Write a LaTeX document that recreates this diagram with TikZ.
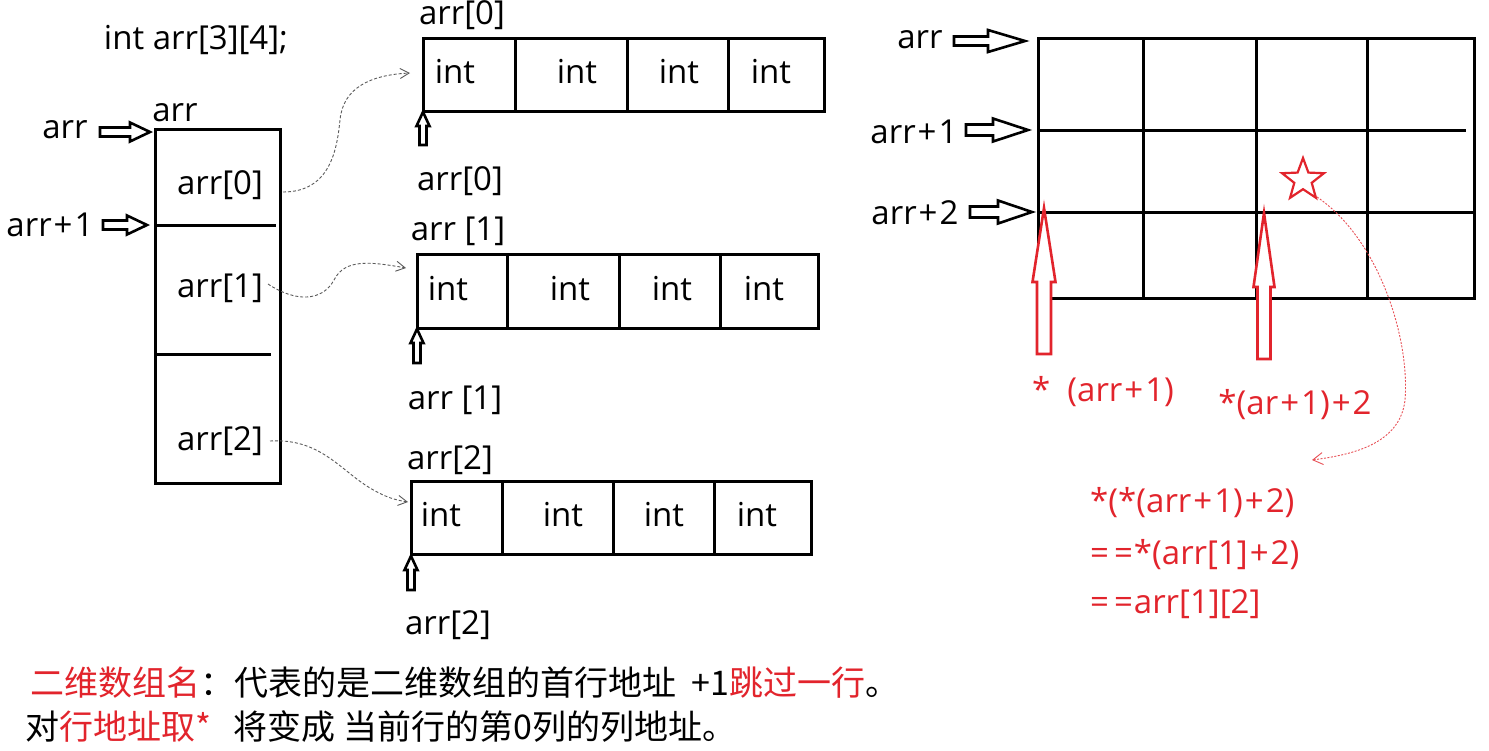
\documentclass[tikz,border=0pt]{standalone}
\usepackage{fontspec}
\setmainfont{Open Sans}
\newfontfamily\cjk{Noto Sans CJK SC}
\usetikzlibrary{arrows.meta,shapes.geometric}
\definecolor{myred}{RGB}{226,36,44}
\definecolor{curvegray}{RGB}{90,90,90}
\newcommand{\pl}{\kern2pt+\kern2pt}
\newcommand{\eqeq}{=\kern5pt=\kern1pt}
% right-pointing hollow block arrow: style, x start, y, x tip, shaft half, head half, head length
\newcommand{\blockR}[7]{\draw[#1] (#2,#3-#5) -- (#4-#7,#3-#5) -- (#4-#7,#3-#6) -- (#4,#3) -- (#4-#7,#3+#6) -- (#4-#7,#3+#5) -- (#2,#3+#5) -- cycle;}
% upward hollow block arrow: style, x, y bottom, y tip, shaft half, head half, head length
\newcommand{\blockU}[7]{\draw[#1] (#2-#5,#3) -- (#2-#5,#4+#7) -- (#2-#6,#4+#7) -- (#2,#4) -- (#2+#6,#4+#7) -- (#2+#5,#4+#7) -- (#2+#5,#3) -- cycle;}
\begin{document}
\begin{tikzpicture}[x=1pt,y=-1pt,
  font=\fontsize{33}{36}\selectfont,
  lbl/.style={inner sep=0pt},
  box/.style={draw, line width=3pt, inner sep=0pt},
  sep/.style={line width=3pt},
  blk/.style={line width=2.6pt, fill=white, line join=miter},
  redblk/.style={line width=2.6pt, draw=myred, fill=white, line join=miter},
  dcurve/.style={draw=curvegray, line width=0.9pt, dash pattern=on 3pt off 2pt, -{Straight Barb[length=9pt,width=10pt]}},
  rcurve/.style={draw=myred!80, line width=0.9pt, dash pattern=on 2pt off 1.5pt, -{Straight Barb[length=10pt,width=12pt]}},
  redtxt/.style={inner sep=0pt, text=myred},
  cjktxt/.style={inner sep=0pt, font=\cjk\fontsize{34}{36}\selectfont}]
\useasboundingbox[fill=white] (0,0) rectangle (1489,750);

% ---------- declaration ----------
\node[lbl] (decl) at (196,40) {int arr[3][4];};

% ---------- column of rows ----------
\node[box, minimum width=125, minimum height=354, anchor=north west] (col) at (154,128) {};
\draw[sep] (154,225) -- (276,225);
\draw[sep] (154,354) -- (271,354);
\node[lbl] (coltop) at (175,113) {arr};
\node[lbl] (a0) at (220,185) {arr[0]};
\node[lbl] (a1) at (220,288) {arr[1]};
\node[lbl] (a2) at (220,441) {arr[2]};
\node[lbl] (larr) at (65,130) {arr};
\node[lbl] (larr1) at (50,225) {arr\pl1};
\blockR{blk}{100}{132}{150}{4.5}{9.5}{20}
\blockR{blk}{103}{225}{147}{4.5}{9.5}{20}

% ---------- row arrays ----------
\node[box, minimum width=401, minimum height=73, anchor=north west] (row0) at (422,37) {};
\draw[sep] (515,37) -- (515,110);
\draw[sep] (627,37) -- (627,110);
\draw[sep] (728,37) -- (728,110);
\node[lbl] (i00) at (455,72) {int};
\node[lbl] (i01) at (577,72) {int};
\node[lbl] (i02) at (679,72) {int};
\node[lbl] (i03) at (771,72) {int};
\node[lbl] (r0top) at (462,15) {arr[0]};
\node[lbl] (r0bot) at (460,181) {arr[0]};
\blockU{blk}{423}{145}{112}{3.5}{6.5}{14}

\node[box, minimum width=401, minimum height=74, anchor=north west] (row1) at (416,253) {};
\draw[sep] (507,253) -- (507,327);
\draw[sep] (619,253) -- (619,327);
\draw[sep] (720,253) -- (720,327);
\node[lbl] (i10) at (448,289) {int};
\node[lbl] (i11) at (570,289) {int};
\node[lbl] (i12) at (672,289) {int};
\node[lbl] (i13) at (764,289) {int};
\node[lbl] (r1top) at (458,231) {arr [1]};
\node[lbl] (r1bot) at (455,400) {arr [1]};
\blockU{blk}{417}{363}{329}{3.5}{6.5}{14}

\node[box, minimum width=400, minimum height=73, anchor=north west] (row2) at (410,480) {};
\draw[sep] (502,480) -- (502,553);
\draw[sep] (613,480) -- (613,553);
\draw[sep] (714,480) -- (714,553);
\node[lbl] (i20) at (441,515) {int};
\node[lbl] (i21) at (563,515) {int};
\node[lbl] (i22) at (664,515) {int};
\node[lbl] (i23) at (757,515) {int};
\node[lbl] (r2top) at (450,460) {arr[2]};
\node[lbl] (r2bot) at (448,625) {arr[2]};
\blockU{blk}{411}{590}{556}{3.5}{6.5}{14}

% ---------- dashed connectors ----------
\coordinate (s0) at (283,192);
\coordinate (e0) at (410,73);
\coordinate (s1) at (268,284);
\coordinate (e1) at (406,268);
\coordinate (s2) at (270,441);
\coordinate (e2) at (408,502);
\draw[dcurve] (s0) .. controls (330,192) and (337,150) .. (340,120) .. controls (343,88) and (370,75) .. (e0);
\draw[dcurve] (s1) .. controls (295,302) and (322,302) .. (334,280) .. controls (345,258) and (372,262) .. (e1);
\draw[dcurve] (s2) .. controls (320,438) and (340,470) .. (370,488) .. controls (385,497) and (395,500) .. (e2);

% ---------- right grid ----------
\node[box, minimum width=436, minimum height=260, anchor=north west] (grid) at (1037,37) {};
\draw[sep] (1143,37) -- (1143,297);
\draw[sep] (1256,37) -- (1256,297);
\draw[sep] (1367,37) -- (1367,297);
\draw[sep] (1037,130) -- (1466,130);
\draw[sep] (1037,212) -- (1473,212);
\node[lbl] (garr) at (920,40) {arr};
\node[lbl] (garr1) at (914,132) {arr\pl1};
\node[lbl] (garr2) at (915,213) {arr\pl2};
\blockR{blk}{954}{41}{1025}{4.5}{11}{37}
\blockR{blk}{966}{130}{1028}{5.5}{11.5}{35}
\blockR{blk}{970}{212}{1032}{5.5}{11.5}{34}

% red pointers
\blockU{redblk}{1044}{354}{208}{7}{11.5}{74}
\blockU{redblk}{1264}{359}{213}{6.5}{10.5}{74}
\node[star, star points=5, star point ratio=2.4, draw=myred, line width=2.2pt, minimum size=44pt, inner sep=0pt] (star) at (1303,180) {};
\coordinate (rs) at (1317,197);
\coordinate (re) at (1312,460);
\draw[rcurve] (rs) .. controls (1380,240) and (1410,340) .. (1405,400) .. controls (1400,445) and (1350,455) .. (re);
\node[redtxt] (p1) at (1103,392) {*\ \ (arr\pl1)};
\node[redtxt] (p2) at (1295,405) {*(ar\pl1)\pl2};
\node[redtxt, anchor=west] (f1) at (1090,503) {*(*(arr\pl1)\pl2)};
\node[redtxt, anchor=west] (f2) at (1090,555) {\eqeq*(arr[1]\pl2)};
\node[redtxt, anchor=west] (f3) at (1090,604) {\eqeq arr[1][2]};

% ---------- bottom notes ----------
\node[cjktxt, anchor=west] (n1) at (30,683) {\textcolor{myred}{二维数组名}：代表的是二维数组的首行地址\ \ +1\textcolor{myred}{跳过一行}。};
\node[cjktxt, anchor=west] (n2) at (25,727) {对\textcolor{myred}{行地址取*}\ \ \ 将变成 当前行的第0列的列地址。};
\end{tikzpicture}
\end{document}
